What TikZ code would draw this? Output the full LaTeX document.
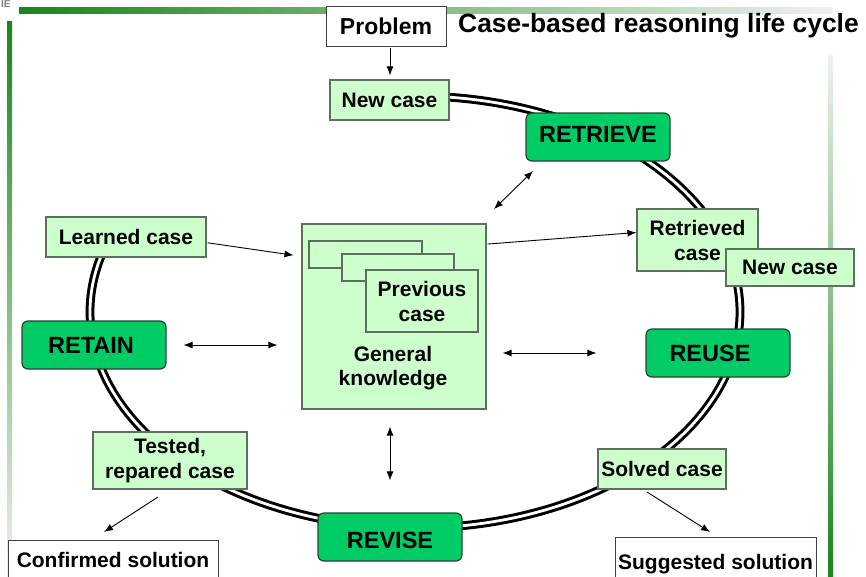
\documentclass[tikz,border=0pt]{standalone}
\usepackage{fontspec}
\setmainfont{Liberation Sans}
\usetikzlibrary{arrows.meta,calc}
\definecolor{lgreen}{HTML}{CCFFCC}
\definecolor{sgreen}{HTML}{00CC66}
\definecolor{boxgray}{HTML}{5F6F5F}
\definecolor{stageborder}{HTML}{2F3F2F}
\definecolor{bardark}{HTML}{1A851A}
\definecolor{barlight}{HTML}{EEF2EE}
\newcommand{\vshift}[2]{\raisebox{#1}[\height][\depth]{#2}}
\begin{document}
\begin{tikzpicture}[x=1pt,y=-1pt,
  lbl/.style={draw=boxgray, line width=1.2pt, fill=lgreen, inner sep=0pt, align=center, font=\fontsize{21}{25}\selectfont\bfseries},
  stage/.style={draw=stageborder, line width=1.2pt, fill=sgreen, rounded corners=6pt, inner sep=0pt, minimum width=144pt, minimum height=48pt, font=\fontsize{23.5}{26}\selectfont\bfseries},
  wbox/.style={draw=black!75, line width=1pt, fill=white, inner sep=0pt, font=\fontsize{21}{25}\selectfont\bfseries},
  arr/.style={line width=0.9pt, -{Latex[length=9pt,width=7pt]}},
  darr/.style={line width=0.9pt, {Latex[length=9pt,width=7pt]}-{Latex[length=9pt,width=7pt]}},
  ring/.style={draw=black, line width=3pt, double=white, double distance=2.8pt},
]
\useasboundingbox (0,0) rectangle (866,576);
\fill[white] (0,0) rectangle (866,576);

% decorative bars
\shade[left color=bardark, right color=barlight] (19,7) rectangle (832,13);
\shade[top color=bardark, bottom color=barlight] (7,21) rectangle (12,576);
\shade[top color=barlight, bottom color=bardark] (828,55) rectangle (833,576);
\node[anchor=north west, text=gray, font=\fontsize{10}{10}\selectfont\bfseries, inner sep=0pt] (ie) at (1,0.5) {IE};

% cycle ring (open between Learned case and New case)
\draw[ring] (415,312) ++(89:325pt and 216pt) arc[start angle=89, end angle=-200, x radius=325pt, y radius=216pt];

% title and problem
\node[wbox, minimum width=120pt, minimum height=40pt, font=\fontsize{23}{26}\selectfont\bfseries] (problem) at (386,26) {Problem};
\node[anchor=west, inner sep=0pt, font=\fontsize{26.4}{28}\selectfont\bfseries] (title) at (458,26) {Case-based reasoning life cycle};

% label boxes
\node[lbl, minimum width=119pt, minimum height=40pt] (newcase) at (389.5,100) {New case};
\node[lbl, minimum width=160pt, minimum height=40pt] (learned) at (126,237) {Learned case};
\node[lbl, minimum width=121pt, minimum height=62pt] (retrieved) at (697.5,240) {Retrieved\\case};
\node[lbl, minimum width=128pt, minimum height=37pt] (newcase2) at (790,267.5) {New case};
\node[lbl, minimum width=154pt, minimum height=57pt] (tested) at (170,460.5) {Tested,\\repared case};
\node[lbl, minimum width=128pt, minimum height=40pt] (solved) at (662,469) {Solved case};

% central knowledge box
\node[lbl, minimum width=184pt, minimum height=185pt] (center) at (394,316.5) {};
\node[lbl, minimum width=113pt, minimum height=27pt] (prev1) at (365.5,254.5) {};
\node[lbl, minimum width=112pt, minimum height=27pt] (prev2) at (398,267.5) {};
\node[lbl, minimum width=112pt, minimum height=62pt] (prev3) at (422,301) {Previous\\case};
\node[align=center, inner sep=0pt, font=\fontsize{21}{24}\selectfont\bfseries] (general) at (393,368) {General\\knowledge};

% stages
\node[stage] (retrieve) at (598,137) {\vshift{3pt}{RETRIEVE}};
\node[stage] (reuse) at (718,353) {\kern-16pt REUSE};
\node[stage] (revise) at (390,537) {\vshift{-3pt}{REVISE}};
\node[stage] (retain) at (94,345) {\kern-6pt RETAIN};

% outputs
\node[wbox, minimum width=210pt, minimum height=40pt] (confirmed) at (113,560) {Confirmed solution};
\node[wbox, minimum width=201pt, minimum height=43pt] (suggested) at (715.5,558.5) {\vshift{-6pt}{Suggested solution}};

% connectors
\draw[arr, shorten <=1pt, shorten >=4pt] ([xshift=4pt]problem.south) -- ([xshift=0.5pt]newcase.north);
\draw[arr, shorten <=1pt, shorten >=8pt] (learned.-4) -- (center.147);
\draw[arr, shorten <=1pt] (center.38) -- (retrieved.173);
\coordinate (rt1) at (533,171);
\coordinate (rt2) at (494,209);
\draw[darr] (rt1) -- (rt2);
\draw[darr, shorten <=17pt, shorten >=24pt] (retain.east) -- (retain.east -| center.west);
\draw[darr, shorten <=16pt, shorten >=49pt] (center.east |- reuse.west) -- (reuse.west);
\draw[darr, shorten <=17pt, shorten >=32pt] (revise.north |- center.south) -- (revise.north);
\coordinate (tc1) at (158,497);
\coordinate (tc2) at (104,532);
\draw[arr] (tc1) -- (tc2);
\coordinate (ss1) at (647,492);
\coordinate (ss2) at (710,532);
\draw[arr] (ss1) -- (ss2);
\end{tikzpicture}
\end{document}
